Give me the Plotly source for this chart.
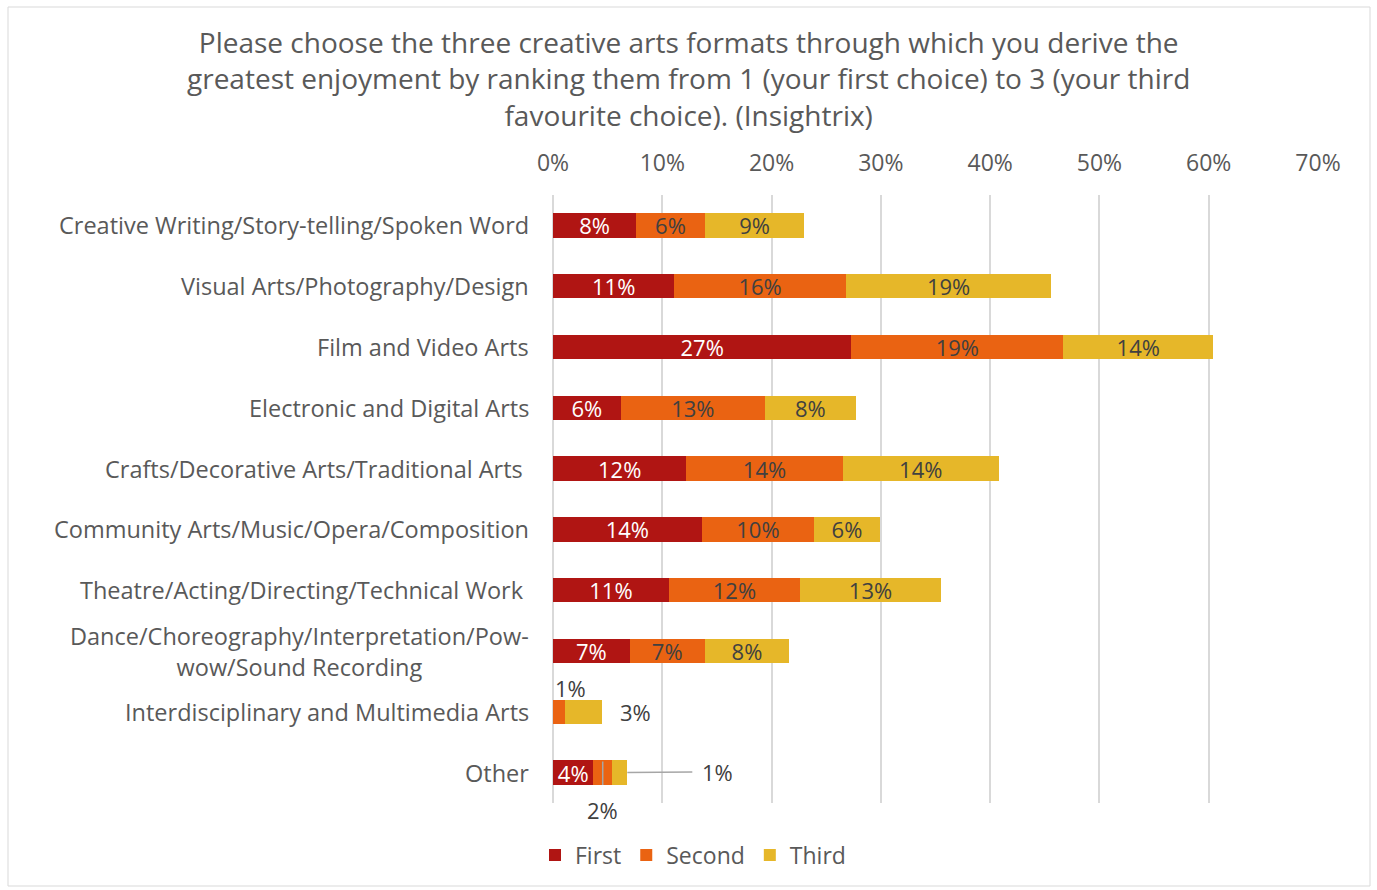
import plotly.graph_objects as go

# Survey data: share of respondents ranking each format 1st / 2nd / 3rd
categories = [
    "Creative Writing/Story-telling/Spoken Word",
    "Visual Arts/Photography/Design",
    "Film and Video Arts",
    "Electronic and Digital Arts",
    "Crafts/Decorative Arts/Traditional Arts ",
    "Community Arts/Music/Opera/Composition",
    "Theatre/Acting/Directing/Technical Work ",
    "Dance/Choreography/Interpretation/Pow-<br>wow/Sound Recording",
    "Interdisciplinary and Multimedia Arts",
    "Other",
]
first = [0.076, 0.111, 0.273, 0.062, 0.122, 0.136, 0.106, 0.070, 0.0, 0.037]
second = [0.063, 0.157, 0.194, 0.132, 0.143, 0.103, 0.120, 0.069, 0.011, 0.017]
third = [0.091, 0.188, 0.137, 0.083, 0.143, 0.060, 0.129, 0.077, 0.034, 0.014]
series_names = ["First", "Second", "Third"]
x_ticks = [0, 0.1, 0.2, 0.3, 0.4, 0.5, 0.6, 0.7]

title_text = ("Please choose the three creative arts formats through which you derive the<br>"
              "greatest enjoyment by ranking them from 1 (your first choice) to 3 (your third<br>"
              "favourite choice). (Insightrix)")

FONT = "Open Sans"
GREY = "#595959"
DARK = "#404040"
colors = ["#B01513", "#EA6312", "#E6B729"]
text_colors = ["white", DARK, DARK]

# Small segments in the last two rows get their labels placed outside
small_rows = {"Interdisciplinary and Multimedia Arts", "Other"}

fig = go.Figure()
for name, vals, col, tcol in zip(series_names, [first, second, third], colors, text_colors):
    positions = []
    for cat, v in zip(categories, vals):
        if v == 0 or (cat in small_rows and name != "First"):
            positions.append("none")
        else:
            positions.append("inside")
    fig.add_trace(go.Bar(
        name=name,
        y=categories,
        x=vals,
        orientation="h",
        marker=dict(color=col, line=dict(width=0)),
        texttemplate="%{x:.0%}",
        textposition=positions,
        insidetextanchor="middle",
        textangle=0,
        constraintext="none",
        textfont=dict(family=FONT, size=22, color=tcol),
        hoverinfo="skip",
    ))

# Category labels (centred multi-line text, right-aligned against the axis)
annotations = []
for cat in categories:
    annotations.append(dict(
        x=0, xref="paper", y=cat, yref="y",
        text=cat, showarrow=False,
        xanchor="right", yanchor="middle", align="center",
        xshift=-22,
        font=dict(family=FONT, size=23.5, color=GREY),
    ))

label_font = dict(family=FONT, size=22, color=DARK)
i_inter = categories.index("Interdisciplinary and Multimedia Arts")
i_other = categories.index("Other")

# Interdisciplinary: second above the bar, third to the right of it
annotations.append(dict(
    x=first[i_inter], y=categories[i_inter], xref="x", yref="y",
    text=f"{second[i_inter]:.0%}", showarrow=False,
    xanchor="left", yanchor="middle", yshift=24, font=label_font,
))
annotations.append(dict(
    x=first[i_inter] + second[i_inter] + third[i_inter], y=categories[i_inter],
    xref="x", yref="y",
    text=f"{third[i_inter]:.0%}", showarrow=False,
    xanchor="left", yanchor="middle", xshift=16, font=label_font,
))
# Other: leader lines for second and third segments
annotations.append(dict(
    x=first[i_other] + second[i_other] / 2, y=categories[i_other], xref="x", yref="y",
    text=f"{second[i_other]:.0%}", showarrow=True, arrowhead=0,
    arrowwidth=1.5, arrowcolor="#A6A6A6", ax=0, ay=48, yshift=11,
    startstandoff=8, font=label_font,
))
annotations.append(dict(
    x=first[i_other] + second[i_other] + third[i_other], y=categories[i_other],
    xref="x", yref="y",
    text=f"{third[i_other]:.0%}", showarrow=True, arrowhead=0,
    arrowwidth=1.5, arrowcolor="#A6A6A6", ax=90, ay=-1,
    startstandoff=8, font=label_font,
))

# Title
annotations.append(dict(
    x=(688 - 553) / 765, y=(803 - 79) / 608, xref="paper", yref="paper",
    text=title_text, showarrow=False, xanchor="center", yanchor="middle",
    align="center", font=dict(family=FONT, size=28, color=GREY),
))

fig.update_layout(
    width=1377, height=890,
    margin=dict(l=553, r=59, t=195, b=87),
    paper_bgcolor="white", plot_bgcolor="white",
    barmode="stack", bargap=0.6,
    showlegend=True,
    legend=dict(
        orientation="h", x=(693 - 553) / 765, xanchor="center",
        y=(803 - 855) / 608, yanchor="middle",
        font=dict(family=FONT, size=23, color=GREY),
        traceorder="normal",
    ),
    xaxis=dict(
        range=[0, 0.7], side="top", tickvals=x_ticks, tickformat=".0%",
        showgrid=True, gridcolor="#D9D9D9", gridwidth=1.5,
        zeroline=True, zerolinecolor="#D9D9D9", zerolinewidth=1.5,
        showline=False, ticks="", ticklabelstandoff=18,
        tickfont=dict(family=FONT, size=23, color=GREY),
        fixedrange=True,
    ),
    yaxis=dict(
        categoryorder="array", categoryarray=categories, autorange="reversed",
        showticklabels=False, showgrid=False, zeroline=False, ticks="",
        fixedrange=True,
    ),
    annotations=annotations,
    shapes=[dict(
        type="rect", xref="paper", yref="paper",
        x0=(8 - 553) / 765, x1=(1370 - 553) / 765,
        y0=(803 - 886) / 608, y1=(803 - 7) / 608,
        line=dict(color="#D9D9D9", width=1), fillcolor="rgba(0,0,0,0)", layer="below",
    )],
)

fig.write_html("out.html")
